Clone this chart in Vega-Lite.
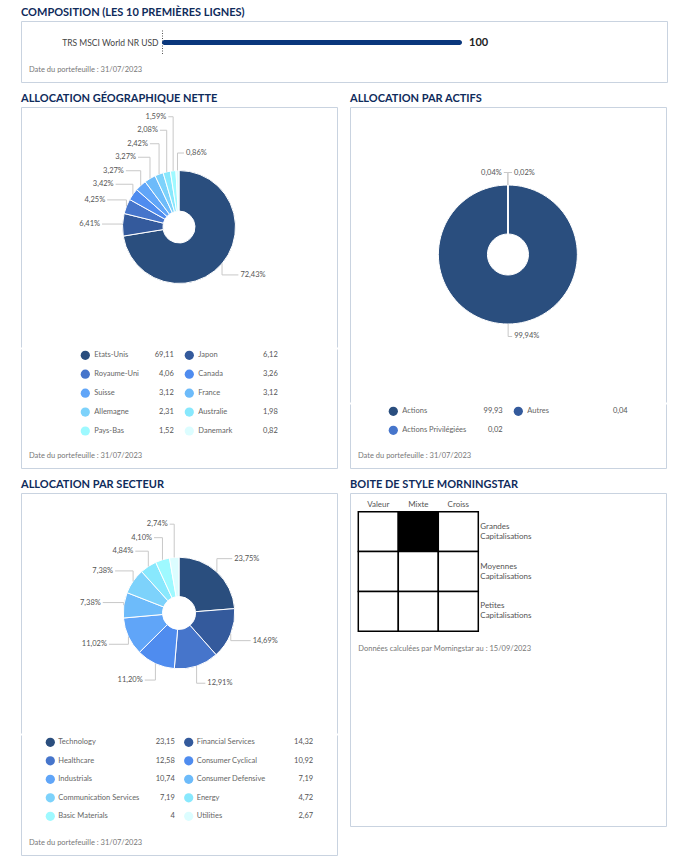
{
  "$schema": "https://vega.github.io/schema/vega-lite/v6.json",
  "background": "white",
  "padding": {"left": 20, "top": 6, "right": 5, "bottom": 5},
  "datasets": {
    "compo": [{"n": "TRS MSCI World NR USD", "v": 100}],
    "geo": [
      {"n": "Etats-Unis", "v": 69.11},
      {"n": "Japon", "v": 6.12},
      {"n": "Royaume-Uni", "v": 4.06},
      {"n": "Canada", "v": 3.26},
      {"n": "Suisse", "v": 3.12},
      {"n": "France", "v": 3.12},
      {"n": "Allemagne", "v": 2.31},
      {"n": "Australie", "v": 1.98},
      {"n": "Pays-Bas", "v": 1.52},
      {"n": "Danemark", "v": 0.82}
    ],
    "actifs": [
      {"n": "Actions", "v": 99.93},
      {"n": "Autres", "v": 0.04},
      {"n": "Actions Privilégiées", "v": 0.02}
    ],
    "secteur": [
      {"n": "Technology", "v": 23.15},
      {"n": "Financial Services", "v": 14.32},
      {"n": "Healthcare", "v": 12.58},
      {"n": "Consumer Cyclical", "v": 10.92},
      {"n": "Industrials", "v": 10.74},
      {"n": "Consumer Defensive", "v": 7.19},
      {"n": "Communication Services", "v": 7.19},
      {"n": "Energy", "v": 4.72},
      {"n": "Basic Materials", "v": 4},
      {"n": "Utilities", "v": 2.67}
    ],
    "style": [
      {"s": "Valeur", "c": "Grandes Capitalisations", "w": 0},
      {"s": "Mixte", "c": "Grandes Capitalisations", "w": 1},
      {"s": "Croiss", "c": "Grandes Capitalisations", "w": 0},
      {"s": "Valeur", "c": "Moyennes Capitalisations", "w": 0},
      {"s": "Mixte", "c": "Moyennes Capitalisations", "w": 0},
      {"s": "Croiss", "c": "Moyennes Capitalisations", "w": 0},
      {"s": "Valeur", "c": "Petites Capitalisations", "w": 0},
      {"s": "Mixte", "c": "Petites Capitalisations", "w": 0},
      {"s": "Croiss", "c": "Petites Capitalisations", "w": 0}
    ]
  },
  "spacing": 9,
  "resolve": {"scale": {"color": "independent", "theta": "independent"}},
  "vconcat": [
    {
      "title": {"text": "COMPOSITION (LES 10 PREMIÈRES LIGNES)"},
      "vconcat": [
        {
          "width": 646,
          "height": 61,
          "view": {"stroke": "#c9d3e0"},
          "title": {"text": "Date du portefeuille : 31/07/2023", "orient": "bottom", "anchor": "start", "frame": "group", "offset": -16, "dx": 8, "font": "Lato", "fontSize": 7.5, "fontWeight": "normal", "color": "#777"},
          "data": {"name": "compo"},
          "layer": [
            {
              "mark": {"type": "bar", "height": 5, "cornerRadius": 2.5, "color": "#0a377c"},
              "encoding": {
                "y": {"field": "n", "type": "nominal", "scale": {"range": [9, 34], "paddingInner": 0, "paddingOuter": 0},
                  "axis": {"orient": "left", "offset": -141, "title": null, "domain": true, "domainDash": [1, 1.5], "domainColor": "#555", "ticks": false, "labelFontSize": 8.5, "labelColor": "#444", "labelPadding": 4}},
                "x": {"field": "v", "type": "quantitative", "scale": {"domain": [-47, 168.33], "nice": false, "zero": false}, "axis": null},
                "x2": {"datum": 0}
              }
            },
            {
              "mark": {"type": "text", "align": "left", "baseline": "middle", "dx": 7, "fontWeight": "bold", "fontSize": 11, "color": "#222"},
              "encoding": {
                "y": {"field": "n", "type": "nominal"},
                "x": {"field": "v", "type": "quantitative"},
                "text": {"field": "v", "type": "quantitative", "format": "~g"}
              }
            }
          ]
        }
      ]
    },
    {
      "hconcat": [
        {
          "title": {"text": "ALLOCATION GÉOGRAPHIQUE NETTE"},
          "spacing": 0,
          "resolve": {"scale": {"color": "independent", "theta": "independent"}},
          "vconcat": [
            {
              "width": 316,
              "height": 240,
              "view": {"stroke": "#c9d3e0", "strokeDash": [556, 316, 240]},
              "data": {"name": "geo"},
              "transform": [
                {"window": [{"op": "row_number", "as": "rn"}]},
                {"joinaggregate": [{"op": "sum", "field": "v", "as": "tot"}]},
                {"window": [{"op": "sum", "field": "v", "as": "cum"}], "sort": [{"field": "rn"}]},
                {"calculate": "datum.v / datum.tot", "as": "pct"},
                {"calculate": "2 * PI * (datum.cum - datum.v / 2) / datum.tot", "as": "mid"},
                {"calculate": "(datum.mid < PI || datum.mid > 6.24) ? 1 : -1", "as": "side"},
                {"calculate": "74 * cos(datum.mid)", "as": "ny"},
                {"window": [{"op": "row_number", "as": "k"}], "groupby": ["side"], "sort": [{"field": "ny"}]},
                {"calculate": "datum.ny - 13.5 * datum.k", "as": "t"},
                {"window": [{"op": "max", "field": "t", "as": "tm"}], "groupby": ["side"], "sort": [{"field": "ny"}]},
                {"calculate": "datum.tm + 13.5 * datum.k", "as": "ly"},
                {"calculate": "datum.side * (74 * abs(sin(datum.mid)) + 5)", "as": "lx"},
                {"calculate": "datum.side * (74 * abs(sin(datum.mid)) + 3)", "as": "cx0"},
                {"calculate": "56.5 * sin(datum.mid)", "as": "ex"},
                {"calculate": "56.5 * cos(datum.mid)", "as": "ey"}
              ],
              "layer": [
                {
                  "mark": {"type": "arc", "outerRadius": 56.5, "innerRadius": 16, "stroke": "#ffffff", "strokeWidth": 1},
                  "encoding": {
                    "theta": {"field": "v", "type": "quantitative", "stack": true},
                    "order": {"field": "rn", "type": "quantitative"},
                    "color": {"field": "rn", "type": "ordinal", "legend": null, "scale": {"range": ["#2a4e7e", "#345a9c", "#4675cb", "#4f8cef", "#60a5f8", "#6dbbfa", "#7dd2fb", "#88e8fd", "#9ef9ff", "#dcfdff"]}}
                  }
                },
                {
                  "mark": {"type": "rule", "color": "#c8c8c8", "strokeWidth": 1},
                  "encoding": {
                    "x": {"field": "cx0", "type": "quantitative", "scale": {"domain": [-158, 158], "nice": false, "zero": false}, "axis": null},
                    "x2": {"field": "ex"},
                    "y": {"field": "ly", "type": "quantitative", "scale": {"domain": [-120, 120], "nice": false, "zero": false}, "axis": null}
                  }
                },
                {
                  "mark": {"type": "rule", "color": "#c8c8c8", "strokeWidth": 1},
                  "encoding": {
                    "x": {"field": "ex", "type": "quantitative"},
                    "y": {"field": "ly", "type": "quantitative"},
                    "y2": {"field": "ey"}
                  }
                },
                {
                  "transform": [{"filter": "datum.side < 0"}],
                  "mark": {"type": "text", "align": "right", "baseline": "middle", "fontSize": 7.5, "color": "#555"},
                  "encoding": {
                    "x": {"field": "lx", "type": "quantitative"},
                    "y": {"field": "ly", "type": "quantitative"},
                    "text": {"field": "pct", "type": "quantitative", "format": ".2%"}
                  }
                },
                {
                  "transform": [{"filter": "datum.side > 0"}],
                  "mark": {"type": "text", "align": "left", "baseline": "middle", "fontSize": 7.5, "color": "#555"},
                  "encoding": {
                    "x": {"field": "lx", "type": "quantitative"},
                    "y": {"field": "ly", "type": "quantitative"},
                    "text": {"field": "pct", "type": "quantitative", "format": ".2%"}
                  }
                }
              ]
            },
            {
              "width": 316,
              "height": 119,
              "view": {"stroke": "#c9d3e0", "strokeDash": [0, 316, 554]},
              "title": {"text": "Date du portefeuille : 31/07/2023", "orient": "bottom", "anchor": "start", "frame": "group", "offset": -16, "dx": 8, "font": "Lato", "fontSize": 7.5, "fontWeight": "normal", "color": "#777"},
              "data": {"name": "geo"},
              "transform": [
                {"window": [{"op": "row_number", "as": "rn"}]},
                {"calculate": "(datum.rn - 1) % 2", "as": "col"},
                {"calculate": "floor((datum.rn - 1) / 2)", "as": "row"}
              ],
              "encoding": {
                "x": {"field": "col", "type": "ordinal", "scale": {"type": "point", "range": [64.3, 168.3], "padding": 0}, "axis": null},
                "y": {"field": "row", "type": "ordinal", "scale": {"type": "point", "range": [6.3, 82], "padding": 0}, "axis": null}
              },
              "layer": [
                {
                  "mark": {"type": "point", "filled": true, "size": 85, "opacity": 1},
                  "encoding": {"color": {"field": "rn", "type": "ordinal", "legend": null, "scale": {"range": ["#2a4e7e", "#345a9c", "#4675cb", "#4f8cef", "#60a5f8", "#6dbbfa", "#7dd2fb", "#88e8fd", "#9ef9ff", "#dcfdff"]}}}
                },
                {
                  "mark": {"type": "text", "align": "left", "baseline": "middle", "dx": 9, "fontSize": 7.5, "color": "#666"},
                  "encoding": {"text": {"field": "n", "type": "nominal"}}
                },
                {
                  "mark": {"type": "text", "align": "right", "baseline": "middle", "dx": 88.5, "fontSize": 7.5, "color": "#555"},
                  "encoding": {"text": {"field": "v", "type": "quantitative", "format": "~g"}}
                }
              ]
            }
          ]
        },
        {
          "title": {"text": "ALLOCATION PAR ACTIFS"},
          "spacing": 0,
          "resolve": {"scale": {"color": "independent", "theta": "independent"}},
          "vconcat": [
            {
              "width": 316,
              "height": 295,
              "view": {"stroke": "#c9d3e0", "strokeDash": [611, 316, 295]},
              "data": {"name": "actifs"},
              "transform": [
                {"window": [{"op": "row_number", "as": "rn"}]},
                {"joinaggregate": [{"op": "sum", "field": "v", "as": "tot"}]},
                {"window": [{"op": "sum", "field": "v", "as": "cum"}], "sort": [{"field": "rn"}]},
                {"calculate": "datum.v / datum.tot", "as": "pct"},
                {"calculate": "2 * PI * (datum.cum - datum.v / 2) / datum.tot", "as": "mid"},
                {"calculate": "(datum.mid < PI || datum.mid > 6.2815) ? 1 : -1", "as": "side"},
                {"calculate": "82 * cos(datum.mid)", "as": "ny"},
                {"window": [{"op": "row_number", "as": "k"}], "groupby": ["side"], "sort": [{"field": "ny"}]},
                {"calculate": "datum.ny - 13.5 * datum.k", "as": "t"},
                {"window": [{"op": "max", "field": "t", "as": "tm"}], "groupby": ["side"], "sort": [{"field": "ny"}]},
                {"calculate": "datum.tm + 13.5 * datum.k", "as": "ly"},
                {"calculate": "datum.side * (82 * abs(sin(datum.mid)) + 6)", "as": "lx"},
                {"calculate": "datum.side * (82 * abs(sin(datum.mid)) + 4)", "as": "cx0"},
                {"calculate": "69.5 * sin(datum.mid)", "as": "ex"},
                {"calculate": "69.5 * cos(datum.mid)", "as": "ey"}
              ],
              "layer": [
                {
                  "mark": {"type": "arc", "outerRadius": 69.5, "innerRadius": 20.5, "stroke": "#ffffff", "strokeWidth": 1},
                  "encoding": {
                    "theta": {"field": "v", "type": "quantitative", "stack": true},
                    "order": {"field": "rn", "type": "quantitative"},
                    "color": {"field": "rn", "type": "ordinal", "legend": null, "scale": {"range": ["#2a4e7e", "#345a9c", "#4675cb"]}}
                  }
                },
                {
                  "mark": {"type": "rule", "color": "#c8c8c8", "strokeWidth": 1},
                  "encoding": {
                    "x": {"field": "cx0", "type": "quantitative", "scale": {"domain": [-158, 158], "nice": false, "zero": false}, "axis": null},
                    "x2": {"field": "ex"},
                    "y": {"field": "ly", "type": "quantitative", "scale": {"domain": [-147.5, 147.5], "nice": false, "zero": false}, "axis": null}
                  }
                },
                {
                  "mark": {"type": "rule", "color": "#c8c8c8", "strokeWidth": 1},
                  "encoding": {
                    "x": {"field": "ex", "type": "quantitative"},
                    "y": {"field": "ly", "type": "quantitative"},
                    "y2": {"field": "ey"}
                  }
                },
                {
                  "transform": [{"filter": "datum.side < 0"}],
                  "mark": {"type": "text", "align": "right", "baseline": "middle", "fontSize": 7.5, "color": "#555"},
                  "encoding": {
                    "x": {"field": "lx", "type": "quantitative"},
                    "y": {"field": "ly", "type": "quantitative"},
                    "text": {"field": "pct", "type": "quantitative", "format": ".2%"}
                  }
                },
                {
                  "transform": [{"filter": "datum.side > 0"}],
                  "mark": {"type": "text", "align": "left", "baseline": "middle", "fontSize": 7.5, "color": "#555"},
                  "encoding": {
                    "x": {"field": "lx", "type": "quantitative"},
                    "y": {"field": "ly", "type": "quantitative"},
                    "text": {"field": "pct", "type": "quantitative", "format": ".2%"}
                  }
                }
              ]
            },
            {
              "width": 316,
              "height": 64,
              "view": {"stroke": "#c9d3e0", "strokeDash": [0, 316, 444]},
              "title": {"text": "Date du portefeuille : 31/07/2023", "orient": "bottom", "anchor": "start", "frame": "group", "offset": -16, "dx": 8, "font": "Lato", "fontSize": 7.5, "fontWeight": "normal", "color": "#777"},
              "data": {"name": "actifs"},
              "transform": [
                {"window": [{"op": "row_number", "as": "rn"}]},
                {"calculate": "(datum.rn - 1) % 2", "as": "col"},
                {"calculate": "floor((datum.rn - 1) / 2)", "as": "row"}
              ],
              "encoding": {
                "x": {"field": "col", "type": "ordinal", "scale": {"type": "point", "range": [43.3, 168.3], "padding": 0}, "axis": null},
                "y": {"field": "row", "type": "ordinal", "scale": {"type": "point", "range": [7.3, 26.3], "padding": 0}, "axis": null}
              },
              "layer": [
                {
                  "mark": {"type": "point", "filled": true, "size": 85, "opacity": 1},
                  "encoding": {"color": {"field": "rn", "type": "ordinal", "legend": null, "scale": {"range": ["#2a4e7e", "#345a9c", "#4675cb"]}}}
                },
                {
                  "mark": {"type": "text", "align": "left", "baseline": "middle", "dx": 9, "fontSize": 7.5, "color": "#666"},
                  "encoding": {"text": {"field": "n", "type": "nominal"}}
                },
                {
                  "mark": {"type": "text", "align": "right", "baseline": "middle", "dx": 109.4, "fontSize": 7.5, "color": "#555"},
                  "encoding": {"text": {"field": "v", "type": "quantitative", "format": "~g"}}
                }
              ]
            }
          ]
        }
      ],
      "spacing": 11,
      "resolve": {"scale": {"color": "independent", "theta": "independent"}}
    },
    {
      "hconcat": [
        {
          "title": {"text": "ALLOCATION PAR SECTEUR"},
          "spacing": 0,
          "resolve": {"scale": {"color": "independent", "theta": "independent"}},
          "vconcat": [
            {
              "width": 316,
              "height": 240,
              "view": {"stroke": "#c9d3e0", "strokeDash": [556, 316, 240]},
              "data": {"name": "secteur"},
              "transform": [
                {"window": [{"op": "row_number", "as": "rn"}]},
                {"joinaggregate": [{"op": "sum", "field": "v", "as": "tot"}]},
                {"window": [{"op": "sum", "field": "v", "as": "cum"}], "sort": [{"field": "rn"}]},
                {"calculate": "datum.v / datum.tot", "as": "pct"},
                {"calculate": "2 * PI * (datum.cum - datum.v / 2) / datum.tot", "as": "mid"},
                {"calculate": "(datum.mid < PI || datum.mid > 6.24) ? 1 : -1", "as": "side"},
                {"calculate": "74 * cos(datum.mid)", "as": "ny"},
                {"window": [{"op": "row_number", "as": "k"}], "groupby": ["side"], "sort": [{"field": "ny"}]},
                {"calculate": "datum.ny - 13.5 * datum.k", "as": "t"},
                {"window": [{"op": "max", "field": "t", "as": "tm"}], "groupby": ["side"], "sort": [{"field": "ny"}]},
                {"calculate": "datum.tm + 13.5 * datum.k", "as": "ly"},
                {"calculate": "datum.side * (74 * abs(sin(datum.mid)) + 5)", "as": "lx"},
                {"calculate": "datum.side * (74 * abs(sin(datum.mid)) + 3)", "as": "cx0"},
                {"calculate": "55.8 * sin(datum.mid)", "as": "ex"},
                {"calculate": "55.8 * cos(datum.mid)", "as": "ey"}
              ],
              "layer": [
                {
                  "mark": {"type": "arc", "outerRadius": 55.8, "innerRadius": 16.5, "stroke": "#ffffff", "strokeWidth": 1},
                  "encoding": {
                    "theta": {"field": "v", "type": "quantitative", "stack": true},
                    "order": {"field": "rn", "type": "quantitative"},
                    "color": {"field": "rn", "type": "ordinal", "legend": null, "scale": {"range": ["#2a4e7e", "#345a9c", "#4675cb", "#4f8cef", "#60a5f8", "#6dbbfa", "#7dd2fb", "#88e8fd", "#9ef9ff", "#dcfdff"]}}
                  }
                },
                {
                  "mark": {"type": "rule", "color": "#c8c8c8", "strokeWidth": 1},
                  "encoding": {
                    "x": {"field": "cx0", "type": "quantitative", "scale": {"domain": [-158, 158], "nice": false, "zero": false}, "axis": null},
                    "x2": {"field": "ex"},
                    "y": {"field": "ly", "type": "quantitative", "scale": {"domain": [-120, 120], "nice": false, "zero": false}, "axis": null}
                  }
                },
                {
                  "mark": {"type": "rule", "color": "#c8c8c8", "strokeWidth": 1},
                  "encoding": {
                    "x": {"field": "ex", "type": "quantitative"},
                    "y": {"field": "ly", "type": "quantitative"},
                    "y2": {"field": "ey"}
                  }
                },
                {
                  "transform": [{"filter": "datum.side < 0"}],
                  "mark": {"type": "text", "align": "right", "baseline": "middle", "fontSize": 7.5, "color": "#555"},
                  "encoding": {
                    "x": {"field": "lx", "type": "quantitative"},
                    "y": {"field": "ly", "type": "quantitative"},
                    "text": {"field": "pct", "type": "quantitative", "format": ".2%"}
                  }
                },
                {
                  "transform": [{"filter": "datum.side > 0"}],
                  "mark": {"type": "text", "align": "left", "baseline": "middle", "fontSize": 7.5, "color": "#555"},
                  "encoding": {
                    "x": {"field": "lx", "type": "quantitative"},
                    "y": {"field": "ly", "type": "quantitative"},
                    "text": {"field": "pct", "type": "quantitative", "format": ".2%"}
                  }
                }
              ]
            },
            {
              "width": 316,
              "height": 120,
              "view": {"stroke": "#c9d3e0", "strokeDash": [0, 316, 556]},
              "title": {"text": "Date du portefeuille : 31/07/2023", "orient": "bottom", "anchor": "start", "frame": "group", "offset": -16, "dx": 8, "font": "Lato", "fontSize": 7.5, "fontWeight": "normal", "color": "#777"},
              "data": {"name": "secteur"},
              "transform": [
                {"window": [{"op": "row_number", "as": "rn"}]},
                {"calculate": "(datum.rn - 1) % 2", "as": "col"},
                {"calculate": "floor((datum.rn - 1) / 2)", "as": "row"}
              ],
              "encoding": {
                "x": {"field": "col", "type": "ordinal", "scale": {"type": "point", "range": [29.3, 167.7], "padding": 0}, "axis": null},
                "y": {"field": "row", "type": "ordinal", "scale": {"type": "point", "range": [7.3, 81.3], "padding": 0}, "axis": null}
              },
              "layer": [
                {
                  "mark": {"type": "point", "filled": true, "size": 85, "opacity": 1},
                  "encoding": {"color": {"field": "rn", "type": "ordinal", "legend": null, "scale": {"range": ["#2a4e7e", "#345a9c", "#4675cb", "#4f8cef", "#60a5f8", "#6dbbfa", "#7dd2fb", "#88e8fd", "#9ef9ff", "#dcfdff"]}}}
                },
                {
                  "mark": {"type": "text", "align": "left", "baseline": "middle", "dx": 8, "fontSize": 7.5, "color": "#666"},
                  "encoding": {"text": {"field": "n", "type": "nominal"}}
                },
                {
                  "mark": {"type": "text", "align": "right", "baseline": "middle", "dx": 124.5, "fontSize": 7.5, "color": "#555"},
                  "encoding": {"text": {"field": "v", "type": "quantitative", "format": "~g"}}
                }
              ]
            }
          ]
        },
        {
          "width": 316,
          "height": 333,
          "view": {"stroke": "#c9d3e0"},
          "title": {"text": "BOITE DE STYLE MORNINGSTAR"},
          "data": {"name": "style"},
          "layer": [
            {
              "mark": {"type": "rect", "stroke": "#000000", "strokeWidth": 1.5},
              "encoding": {
                "x": {"field": "s", "type": "nominal", "scale": {"domain": ["Valeur", "Mixte", "Croiss"], "range": [8.3, 128.3], "paddingInner": 0, "paddingOuter": 0}, "axis": null},
                "y": {"field": "c", "type": "nominal", "scale": {"domain": ["Grandes Capitalisations", "Moyennes Capitalisations", "Petites Capitalisations"], "range": [18.7, 138.3], "paddingInner": 0, "paddingOuter": 0}, "axis": null},
                "fill": {"field": "w", "type": "ordinal", "legend": null, "scale": {"domain": [0, 1], "range": ["#ffffff", "#000000"]}}
              }
            },
            {
              "transform": [{"filter": "datum.c === 'Grandes Capitalisations'"}],
              "mark": {"type": "text", "align": "center", "baseline": "middle", "dy": -7, "fontSize": 8, "color": "#555"},
              "encoding": {
                "x": {"field": "s", "type": "nominal"},
                "y": {"field": "c", "type": "nominal", "bandPosition": 0},
                "text": {"field": "s", "type": "nominal"}
              }
            },
            {
              "transform": [{"filter": "datum.s === 'Croiss'"}],
              "mark": {"type": "text", "align": "left", "baseline": "middle", "dx": 2, "dy": -5, "lineBreak": " ", "lineHeight": 10, "fontSize": 8, "color": "#555"},
              "encoding": {
                "x": {"field": "s", "type": "nominal", "bandPosition": 1},
                "y": {"field": "c", "type": "nominal"},
                "text": {"field": "c", "type": "nominal"}
              }
            },
            {
              "transform": [{"filter": "datum.s === 'Valeur' && datum.c === 'Petites Capitalisations'"}],
              "mark": {"type": "text", "align": "left", "baseline": "middle", "dy": 18, "fontSize": 7.5, "color": "#777"},
              "encoding": {
                "x": {"field": "s", "type": "nominal", "bandPosition": 0},
                "y": {"field": "c", "type": "nominal", "bandPosition": 1},
                "text": {"value": "Données calculées par Morningstar au : 15/09/2023"}
              }
            }
          ]
        }
      ],
      "spacing": 11,
      "resolve": {"scale": {"color": "independent", "theta": "independent"}}
    }
  ],
  "config": {
    "view": {"stroke": null},
    "font": "Lato",
    "locale": {"number": {"decimal": ",", "thousands": " ", "grouping": [3], "currency": ["", " €"]}},
    "title": {"font": "Lato", "fontSize": 11, "fontWeight": "bold", "color": "#0f2b5b", "anchor": "start", "offset": 3, "frame": "group"},
    "text": {"font": "Lato"},
    "axis": {"labelFont": "Lato"}
  }
}
